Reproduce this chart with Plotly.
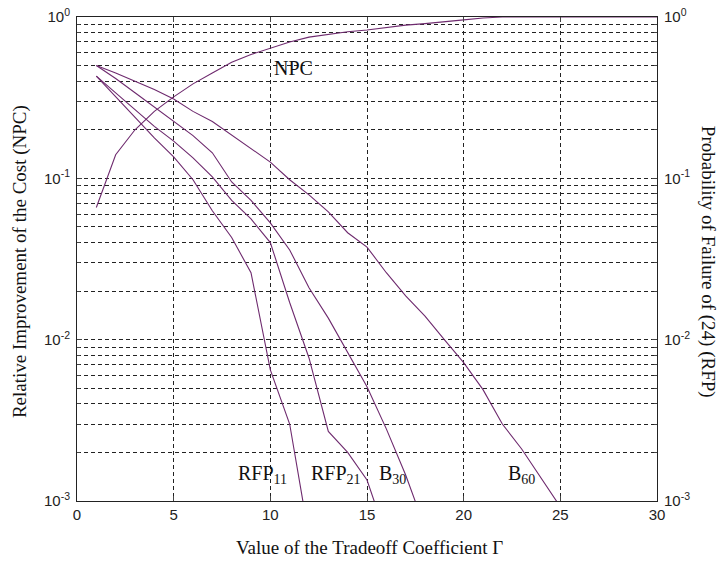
import math
import plotly.graph_objects as go

# Data (Gamma = 1, 2, 3, ...)
gamma_npc = list(range(1, 31))
npc = [0.066, 0.14, 0.20, 0.26, 0.32, 0.385, 0.45, 0.525, 0.586, 0.64,
       0.70, 0.75, 0.78, 0.81, 0.83, 0.86, 0.89, 0.91, 0.93, 0.96,
       0.985, 1.0, 1.0, 1.0, 1.0, 1.0, 1.0, 1.0, 1.0, 1.0]

gamma_b60 = list(range(1, 26))
b60 = [0.5, 0.45, 0.40, 0.355, 0.31, 0.26, 0.225, 0.186, 0.152, 0.126,
       0.098, 0.079, 0.062, 0.046, 0.0375, 0.026, 0.0187, 0.014, 0.010, 0.0072,
       0.0049, 0.0030, 0.0021, 0.0014, 0.00092]

gamma_b30 = list(range(1, 19))
b30 = [0.5, 0.416, 0.339, 0.277, 0.226, 0.184, 0.144, 0.095, 0.073, 0.053,
       0.036, 0.021, 0.0136, 0.0083, 0.0051, 0.0028, 0.00145, 0.00068]

gamma_rfp21 = list(range(1, 17))
rfp21 = [0.43, 0.338, 0.267, 0.21, 0.17, 0.134, 0.102, 0.073, 0.056, 0.040,
         0.017, 0.0077, 0.0027, 0.0020, 0.00135, 0.0006]

gamma_rfp11 = list(range(1, 13))
rfp11 = [0.43, 0.32, 0.24, 0.178, 0.136, 0.098, 0.063, 0.043, 0.026, 0.0065,
         0.0030, 0.0006]

x_ticks = [0, 5, 10, 15, 20, 25, 30]
y_major = [0.001, 0.01, 0.1, 1]
y_major_text = ["10<sup>-3</sup>", "10<sup>-2</sup>", "10<sup>-1</sup>", "10<sup>0</sup>"]
y_minor = [m * 10 ** e for e in (-3, -2, -1) for m in range(2, 10)]

labels = [
    ("NPC", 11.2, 0.483),
    ("RFP<sub>11</sub>", 9.6, 0.00145),
    ("RFP<sub>21</sub>", 13.4, 0.00145),
    ("B<sub>30</sub>", 16.3, 0.00145),
    ("B<sub>60</sub>", 23.0, 0.00145),
]

LINE = "#6e2a6e"
SERIF = "Liberation Serif, Times New Roman, serif"
SANS = "Liberation Sans, Arial, sans-serif"

fig = go.Figure()
for gx, gy in [(gamma_npc, npc), (gamma_b60, b60), (gamma_b30, b30),
               (gamma_rfp21, rfp21), (gamma_rfp11, rfp11)]:
    fig.add_trace(go.Scatter(x=gx, y=gy, mode="lines",
                             line=dict(color=LINE, width=1.1),
                             showlegend=False, hoverinfo="skip"))

# invisible trace for the right axis
fig.add_trace(go.Scatter(x=[0], y=[0.01], yaxis="y2", mode="lines",
                         line=dict(width=0), showlegend=False, hoverinfo="skip"))

grid = dict(gridcolor="#222222", griddash="4px,3px", gridwidth=1)

fig.update_layout(
    width=722, height=561,
    margin=dict(l=77, r=65, t=17, b=60),
    paper_bgcolor="white", plot_bgcolor="white",
    xaxis=dict(range=[0, 30], tickvals=x_ticks, ticks="inside", ticklen=5,
               showline=True, linecolor="#222", linewidth=1, mirror="ticks",
               showgrid=True, **grid, zeroline=False, automargin=False,
               tickfont=dict(family=SANS, size=15, color="#222")),
    yaxis=dict(type="log", range=[-3, 0], tickvals=y_major, ticktext=y_major_text,
               ticks="inside", ticklen=5, showline=True, linecolor="#222",
               linewidth=1, mirror=True, showgrid=True, **grid, zeroline=False,
               automargin=False, ticklabelstandoff=3,
               tickfont=dict(family=SANS, size=15, color="#222"),
               minor=dict(tickvals=y_minor, ticks="inside", ticklen=3,
                          showgrid=True, gridcolor="#222222", griddash="4px,3px",
                          gridwidth=1)),
    yaxis2=dict(type="log", range=[-3, 0], overlaying="y", side="right",
                tickvals=y_major, ticktext=y_major_text, ticks="inside", ticklen=5,
                showgrid=False, zeroline=False, showline=False, automargin=False,
                ticklabelstandoff=6,
                tickfont=dict(family=SANS, size=15, color="#222"),
                minor=dict(tickvals=y_minor, ticks="inside", ticklen=3)),
)

for txt, xv, yv in labels:
    fig.add_annotation(x=xv, y=math.log10(yv), yref="y", xref="x", text=txt,
                       showarrow=False,
                       font=dict(family=SERIF, size=20, color="#111"),
                       xanchor="center", yanchor="middle")

fig.add_annotation(xref="paper", yref="paper", x=0.505, y=-0.097,
                   text="Value of the Tradeoff Coefficient Γ", showarrow=False,
                   font=dict(family=SERIF, size=19, color="#111"),
                   xanchor="center", yanchor="middle")
fig.add_annotation(xref="paper", yref="paper", x=-0.098, y=0.494,
                   text="Relative Improvement of the Cost (NPC)", showarrow=False,
                   textangle=-90, font=dict(family=SERIF, size=19, color="#111"),
                   xanchor="center", yanchor="middle")
fig.add_annotation(xref="paper", yref="paper", x=1.088, y=0.494,
                   text="Probability of Failure of (24) (RFP)", showarrow=False,
                   textangle=90, font=dict(family=SERIF, size=19, color="#111"),
                   xanchor="center", yanchor="middle")

fig.write_html("out.html", config={"displayModeBar": False},
               post_script="document.body.style.margin='0';document.body.style.overflow='hidden';")
